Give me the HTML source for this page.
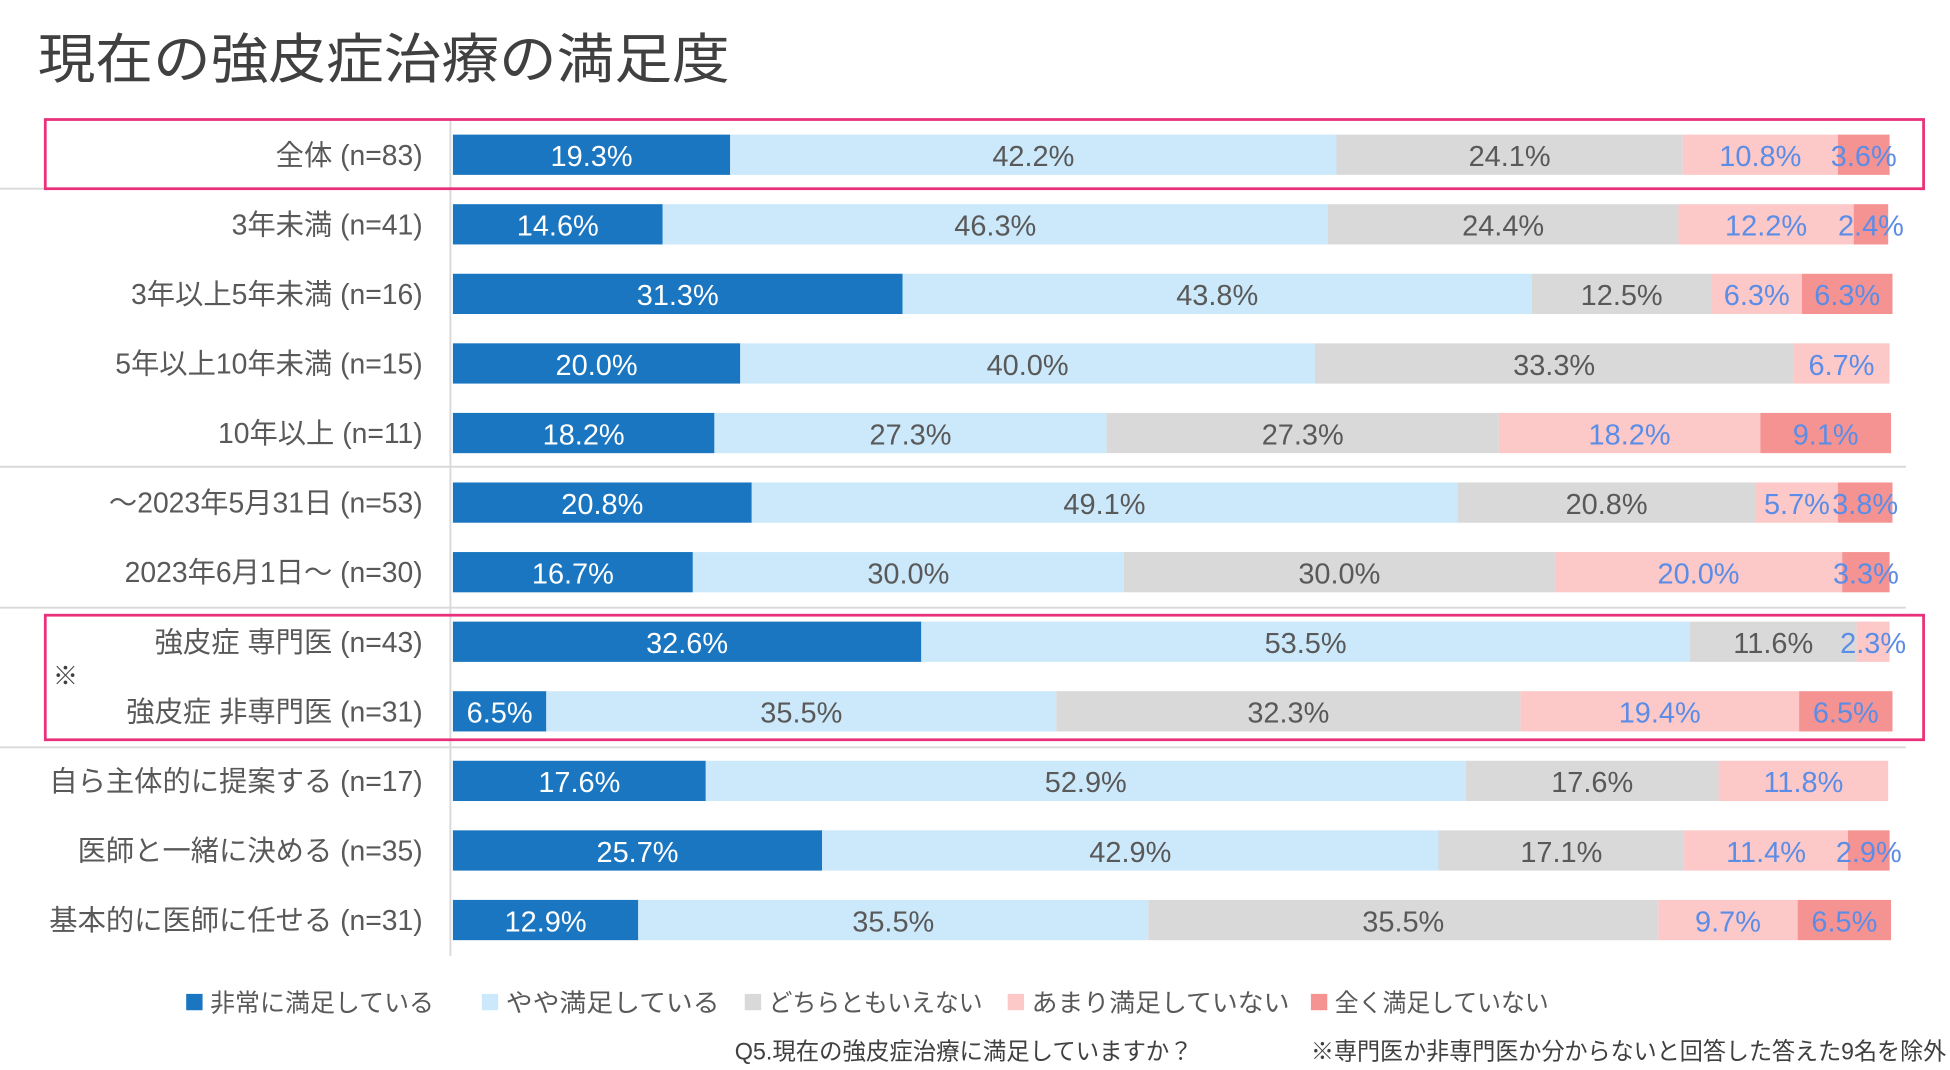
<!DOCTYPE html>
<html><head><meta charset="utf-8"><style>
body{margin:0;background:#fff;}
svg{display:block;font-family:"Liberation Sans","Noto Sans CJK JP",sans-serif;}
</style></head><body>
<svg id="chart" width="1950" height="1070" viewBox="0 0 1550 850.5" preserveAspectRatio="none" xmlns="http://www.w3.org/2000/svg">
<text x="30" y="62" font-size="43" fill="#404040" textLength="550" lengthAdjust="spacingAndGlyphs">現在の強皮症治療の満足度</text>
<g id="bars"></g>
<text x="584" y="842" font-size="19" fill="#404040" textLength="364" lengthAdjust="spacingAndGlyphs">Q5.現在の強皮症治療に満足していますか？</text>
<text x="1042" y="842" font-size="19" fill="#404040" textLength="505" lengthAdjust="spacingAndGlyphs">※専門医か非専門医か分からないと回答した答えた9名を除外</text>
<text x="42" y="544" font-size="20" fill="#404040">※</text>
</svg>
<script>
const categories=["全体 (n=83)","3年未満 (n=41)","3年以上5年未満 (n=16)","5年以上10年未満 (n=15)","10年以上 (n=11)","～2023年5月31日 (n=53)","2023年6月1日～ (n=30)","強皮症 専門医 (n=43)","強皮症 非専門医 (n=31)","自ら主体的に提案する (n=17)","医師と一緒に決める (n=35)","基本的に医師に任せる (n=31)"];
const verySatisfied=[19.3,14.6,31.3,20.0,18.2,20.8,16.7,32.6,6.5,17.6,25.7,12.9];
const somewhatSatisfied=[42.2,46.3,43.8,40.0,27.3,49.1,30.0,53.5,35.5,52.9,42.9,35.5];
const neutral=[24.1,24.4,12.5,33.3,27.3,20.8,30.0,11.6,32.3,17.6,17.1,35.5];
const notVery=[10.8,12.2,6.3,6.7,18.2,5.7,20.0,2.3,19.4,11.8,11.4,9.7];
const notAtAll=[3.6,2.4,6.3,0,9.1,3.8,3.3,0,6.5,0,2.9,6.5];
const seriesNames=["非常に満足している","やや満足している","どちらともいえない","あまり満足していない","全く満足していない"];
const series=[verySatisfied,somewhatSatisfied,neutral,notVery,notAtAll];
const colors=["#1a76c0","#cce9fb","#d9d9d9","#fcc8c8","#f59393"];
const textColors=["#ffffff","#595959","#595959","#5b8de6","#5b8de6"];
const NS="http://www.w3.org/2000/svg";
const g=document.getElementById('bars');
const x0=360,W=1142,y0=123,step=55.3,bh=32;
const xs=v=>v/100*W;
const yc=i=>y0+i*step;
function mk(tag,attrs){const e=document.createElementNS(NS,tag);for(const k in attrs)e.setAttribute(k,attrs[k]);g.appendChild(e);return e;}
categories.forEach((c,i)=>{
  const t=mk('text',{x:336,y:yc(i)+8,'font-size':22.5,fill:'#595959','text-anchor':'end'});
  t.textContent=c;
  
  
  let acc=0;
  series.forEach((s,k)=>{
    const v=s[i];
    if(v>0){
      const r=mk('rect',{x:x0+xs(acc),y:yc(i)-bh/2,width:xs(v),height:bh,fill:colors[k]});
      
      
      const l=mk('text',{x:x0+xs(acc+v/2),y:yc(i)+9,'font-size':23,fill:textColors[k],'text-anchor':'middle'});
      l.textContent=v.toFixed(1)+'%';
      
      
    }
    acc+=v;
  });
});
[150,371,483,594].forEach(y=>{
  const ln=mk('line',{x1:0,x2:1515,y1:y,y2:y,stroke:'#d9d9d9','stroke-width':1.5});
  
  
});
const ax=mk('line',{x1:358,x2:358,y1:95,y2:760,stroke:'#d9d9d9','stroke-width':1.5});


[[36,95,1493,55],[36,489,1493,99]].forEach(b=>{
  const r=mk('rect',{x:b[0],y:b[1],width:b[2],height:b[3],fill:'none',stroke:'#e8317a','stroke-width':2.2});
  
  
});
const legX=[148,383,592,801,1042];
const legW=[178,170,170,205,170];
seriesNames.forEach((n,k)=>{
  const r=mk('rect',{x:legX[k],y:790,width:13,height:13,fill:colors[k]});
  
  
  const t=mk('text',{x:legX[k]+19,y:804,'font-size':20,fill:'#595959',textLength:legW[k],lengthAdjust:'spacingAndGlyphs'});
  t.textContent=n;
  
  
});
</script>
</body></html>
